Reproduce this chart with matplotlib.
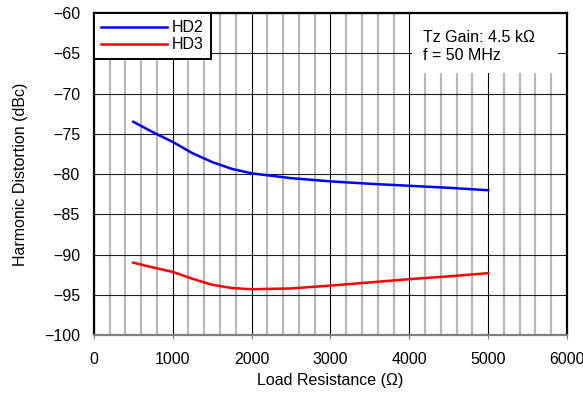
import numpy as np
import matplotlib.pyplot as plt
from matplotlib.ticker import MultipleLocator
from matplotlib.patches import Rectangle

plt.rcParams['font.family'] = ['Liberation Sans', 'DejaVu Sans']

# load resistance (ohm) and distortion (dBc)
load_r = [500, 750, 1000, 1250, 1500, 1750, 2000, 2500, 3000, 3500, 4000, 4500, 5000]
hd2 = [-73.5, -74.8, -76.0, -77.4, -78.5, -79.35, -79.9, -80.5, -80.9, -81.2, -81.45, -81.7, -82.0]
hd3 = [-91.0, -91.6, -92.15, -93.0, -93.75, -94.15, -94.3, -94.2, -93.85, -93.45, -93.05, -92.7, -92.3]

fig = plt.figure(figsize=(5.83, 3.98), dpi=100)
ax = fig.add_axes([0.161, 0.158, 0.8116, 0.809])

ax.plot(load_r, hd2, color='#0000ff', lw=1.8, label='HD2', zorder=4)
ax.plot(load_r, hd3, color='#ff0000', lw=1.8, label='HD3', zorder=4)

ax.set_xlim(0, 6000)
ax.set_ylim(-100, -60)
ax.xaxis.set_major_locator(MultipleLocator(1000))
ax.xaxis.set_minor_locator(MultipleLocator(200))
ax.yaxis.set_major_locator(MultipleLocator(5))

ax.grid(which='minor', axis='x', color='#b8b8b8', lw=1.6)
ax.grid(which='major', axis='x', color='black', lw=0.8)
ax.grid(which='major', axis='y', color='#202020', lw=0.8)
ax.set_axisbelow(True)

ax.tick_params(axis='x', which='major', direction='out', length=3, color='#808080',
               labelsize=11.5, pad=9.5)
ax.tick_params(axis='x', which='minor', length=0)
ax.tick_params(axis='y', length=0, labelsize=11.5, pad=10)
ax.set_yticks(np.arange(-100, -55, 5))
ax.set_yticklabels([f'\u2212{abs(v)}' for v in range(-100, -55, 5)])

for side in ['left', 'right', 'top']:
    ax.spines[side].set_linewidth(1.6)
ax.spines['bottom'].set_color('#808080')
ax.spines['bottom'].set_linewidth(1.6)

ax.set_xlabel('Load Resistance (\u03a9)', fontsize=11.5, va='top')
ax.set_ylabel('Harmonic Distortion (dBc)', fontsize=11.5)
ax.xaxis.set_label_coords(0.5, -0.118)
ax.yaxis.set_label_coords(-0.14, 0.5)

leg = ax.legend(loc='upper left', fontsize=11.5, frameon=True, fancybox=False,
                borderaxespad=0, handlelength=4.1, handletextpad=0.35,
                borderpad=0.45, labelspacing=0.12)
leg.get_frame().set_edgecolor('black')
leg.get_frame().set_linewidth(1.4)
leg.get_frame().set_alpha(1)
for line in leg.get_lines():
    line.set_linewidth(1.8)

# white panel behind the test conditions
ax.add_patch(Rectangle((0.672, 0.814), 0.309, 0.186, transform=ax.transAxes,
                       facecolor='white', edgecolor='none', zorder=2))
ax.text(0.696, 0.947, 'Tz Gain: 4.5 k\u03a9\nf = 50 MHz', transform=ax.transAxes,
        fontsize=11.5, va='top', ha='left', linespacing=1.2, zorder=3)

fig.savefig('out.png', dpi=100)
